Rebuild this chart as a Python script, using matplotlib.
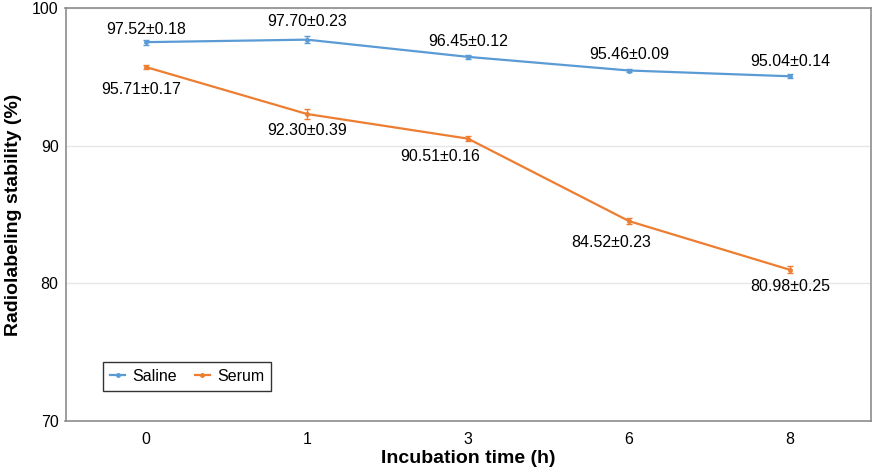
import matplotlib
matplotlib.use("Agg")
import matplotlib.pyplot as plt
from matplotlib.lines import Line2D

plt.rcParams['font.family'] = ['Liberation Sans', 'DejaVu Sans']

times = ["0", "1", "3", "6", "8"]
saline = [97.52, 97.70, 96.45, 95.46, 95.04]
saline_err = [0.18, 0.23, 0.12, 0.09, 0.14]
serum = [95.71, 92.30, 90.51, 84.52, 80.98]
serum_err = [0.17, 0.39, 0.16, 0.23, 0.25]

sal_off = [(0, 13), (0, 18), (0, 15), (0, 16), (0, 15)]
ser_off = [(-5, -22), (0, -16), (-28, -18), (-18, -21), (0, -17)]

fig = plt.figure(figsize=(8.76, 4.70), dpi=100)
ax = fig.add_axes([65.5/876, 1-421/470, 805/876, 413/470])

x = list(range(len(times)))
blue = '#5B9BD5'
orange = '#ED7D31'
ax.errorbar(x, saline, yerr=saline_err, color=blue, lw=1.6, marker='o', ms=2.5,
            capsize=2, elinewidth=1, zorder=3)
ax.errorbar(x, serum, yerr=serum_err, color=orange, lw=1.6, marker='o', ms=2.5,
            capsize=2, elinewidth=1, zorder=3)

fs = 11.5
for i in x:
    ax.annotate(f"{saline[i]:.2f}±{saline_err[i]:.2f}", (i, saline[i]),
                xytext=sal_off[i], textcoords='offset pixels',
                ha='center', va='center', fontsize=fs)
    ax.annotate(f"{serum[i]:.2f}±{serum_err[i]:.2f}", (i, serum[i]),
                xytext=ser_off[i], textcoords='offset pixels',
                ha='center', va='center', fontsize=fs)

ax.set_xlim(-0.5, len(times) - 0.5)
ax.set_ylim(70, 100)
ax.set_xticks(x)
ax.set_xticklabels(times)
ax.set_yticks([70, 80, 90, 100])
ax.tick_params(length=0, labelsize=fs, pad=8)
ax.tick_params(axis='y', pad=5)
ax.grid(axis='y', color='#E6E6E6', lw=1)
ax.set_axisbelow(True)
for s in ax.spines.values():
    s.set_color('#8C8C8C')
    s.set_linewidth(1.2)

ax.set_xlabel('Incubation time (h)', fontsize=14, fontweight='bold', labelpad=2)
ax.set_ylabel('Radiolabeling stability (%)', fontsize=14, fontweight='bold', labelpad=7)

handles = [Line2D([], [], color=blue, lw=1.6, marker='o', ms=2.5),
           Line2D([], [], color=orange, lw=1.6, marker='o', ms=2.5)]
leg = ax.legend(handles, ['Saline', 'Serum'], loc='lower left',
                bbox_to_anchor=(37.5/805, 30/413), borderaxespad=0, ncol=2, fontsize=fs,
                frameon=True, fancybox=False, edgecolor='black', handlelength=0.95,
                handletextpad=0.45, columnspacing=1.1, borderpad=0.45)
leg.get_frame().set_linewidth(1)

fig.savefig('out.png', dpi=100)
